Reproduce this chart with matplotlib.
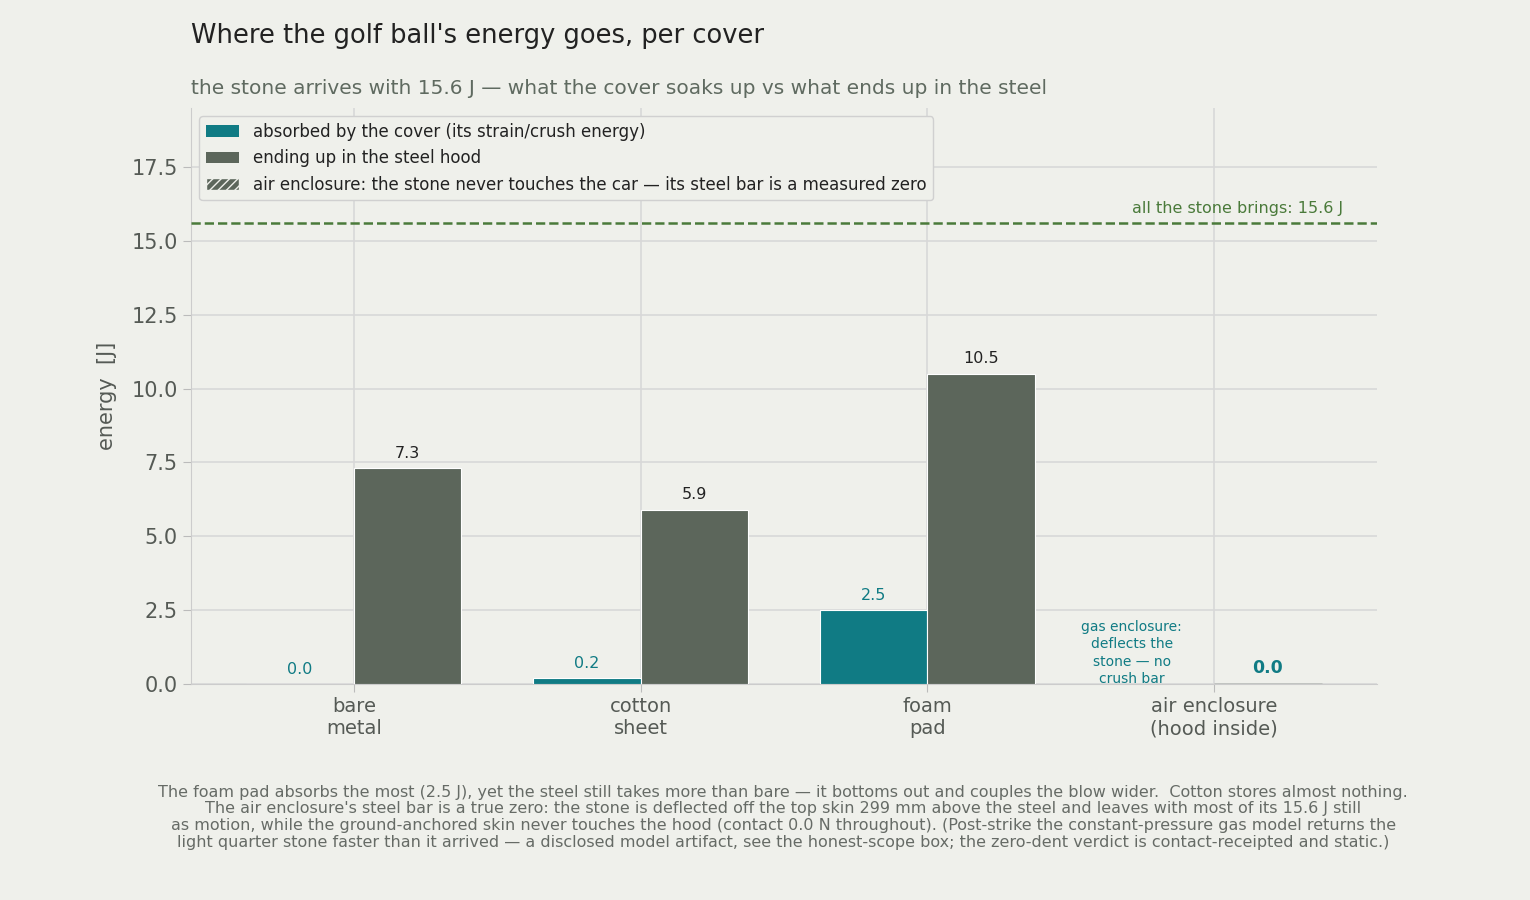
import matplotlib
matplotlib.use("Agg")
import matplotlib.pyplot as plt
import numpy as np

categories = ["bare\nmetal", "cotton\nsheet", "foam\npad", "air enclosure\n(hood inside)"]
absorbed = [0.0, 0.2, 2.5, None]
steel = [7.3, 5.9, 10.5, 0.0]
stone_energy = 15.6

BG = "#eff0eb"
TEAL = "#107b84"
STEEL = "#5c665b"
GREEN = "#4a7a3a"

fig = plt.figure(figsize=(15.3, 9), dpi=100, facecolor=BG)
ax = fig.add_axes([0.1248, 0.24, 0.7752, 0.64], facecolor=BG)
x = np.arange(len(categories))
w = 0.375
for i in range(len(categories)):
    if absorbed[i] is not None:
        ax.bar(x[i] - w/2, absorbed[i], w, color=TEAL, edgecolor="white", linewidth=0.8, zorder=3)
        ax.text(x[i] - w/2, absorbed[i] + 0.25, f"{absorbed[i]:.1f}", ha="center", va="bottom", color=TEAL, fontsize=11.5)
    else:
        ax.text(x[i] - w/2 - 0.1, 1.05, "gas enclosure:\ndeflects the\nstone — no\ncrush bar", ha="center", va="center", color=TEAL, fontsize=10, linespacing=1.3)
    if i == 3:
        ax.bar(x[i] + w/2, steel[i], w, color=STEEL, hatch="////", edgecolor=STEEL, zorder=3)
        ax.text(x[i] + w/2, steel[i] + 0.25, f"{steel[i]:.1f}", ha="center", va="bottom", color=TEAL, fontsize=12.5, fontweight="bold")
    else:
        ax.bar(x[i] + w/2, steel[i], w, color=STEEL, edgecolor="white", linewidth=0.8, zorder=3)
        ax.text(x[i] + w/2, steel[i] + 0.25, f"{steel[i]:.1f}", ha="center", va="bottom", color="#222222", fontsize=11.5)

ax.axhline(stone_energy, color=GREEN, linestyle="--", linewidth=1.8, zorder=4)
ax.text(3.45, stone_energy + 0.25, f"all the stone brings: {stone_energy} J", ha="right", va="bottom", color=GREEN, fontsize=11.5)

from matplotlib.patches import Patch
handles = [Patch(facecolor=TEAL, label="absorbed by the cover (its strain/crush energy)"),
           Patch(facecolor=STEEL, label="ending up in the steel hood"),
           Patch(facecolor=STEEL, hatch="////", edgecolor=BG, label="air enclosure: the stone never touches the car — its steel bar is a measured zero")]
leg = ax.legend(handles=handles, loc="upper left", fontsize=12, facecolor=BG, edgecolor="#d0d0d0", framealpha=1, borderaxespad=0.5)
for t in leg.get_texts():
    t.set_color("#222222")

ax.set_xlim(-0.568, 3.568)
ax.set_ylim(0, 19.5)
ax.set_xticks(x)
ax.set_xticklabels(categories, fontsize=14, color="#555a55")
ax.set_yticks(np.arange(0, 18, 2.5))
ax.set_yticklabels([f"{v:.1f}" for v in np.arange(0, 18, 2.5)], fontsize=15, color="#555a55")
ax.set_ylabel("energy  [J]", fontsize=15, color="#555a55", labelpad=10)
ax.grid(True, color="#d8d8d8", linewidth=1.2, zorder=0)
ax.set_axisbelow(True)
for s in ["top", "right"]:
    ax.spines[s].set_visible(False)
for s in ["left", "bottom"]:
    ax.spines[s].set_color("#cccccc")
ax.tick_params(colors="#bbbbbb", labelcolor="#555a55", length=6)

fig.text(0.1248, 0.96, "Where the golf ball's energy goes, per cover", fontsize=18.5, color="#222222", va="center")
fig.text(0.1248, 0.902, "the stone arrives with 15.6 J — what the cover soaks up vs what ends up in the steel", fontsize=14.5, color="#5f6a60", va="center")
foot = ("The foam pad absorbs the most (2.5 J), yet the steel still takes more than bare — it bottoms out and couples the blow wider.  Cotton stores almost nothing.\n"
        "The air enclosure's steel bar is a true zero: the stone is deflected off the top skin 299 mm above the steel and leaves with most of its 15.6 J still\n"
        "as motion, while the ground-anchored skin never touches the hood (contact 0.0 N throughout). (Post-strike the constant-pressure gas model returns the\n"
        "light quarter stone faster than it arrived — a disclosed model artifact, see the honest-scope box; the zero-dent verdict is contact-receipted and static.)")
fig.text(0.512, 0.092, foot, ha="center", va="center", fontsize=11.5, color="#666b66", linespacing=1.15)
fig.savefig("out.png", dpi=100, facecolor=BG)
